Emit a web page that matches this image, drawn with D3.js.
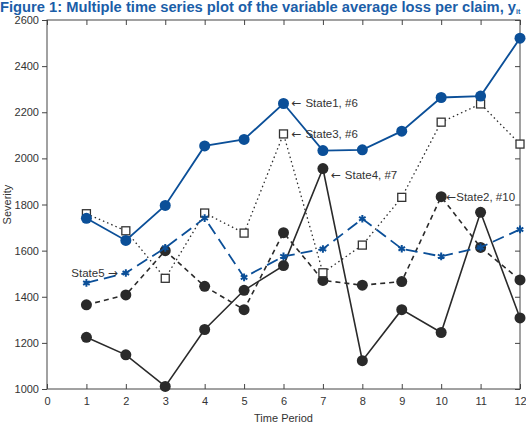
<!DOCTYPE html>
<head>
    <meta charset="UTF-8">
    <title>Multiple time series</title>
</head>
<style>
    body { margin: 0; background: #fff; }
    svg { display: block; font-family: "Liberation Sans", Arial, sans-serif; }
    .axis text { font-size: 11px; fill: #333; }
    .axis path, .axis line { stroke: #444; }
    .note { font-size: 11.5px; fill: #333; }
    .arrow { font-family: "DejaVu Sans", sans-serif; font-size: 12px; }
</style>
<body>
<script src="https://cdn.jsdelivr.net/npm/d3@7"></script>
<script>
    // values
    var periods = [1, 2, 3, 4, 5, 6, 7, 8, 9, 10, 11, 12];
    var state1 = [1740, 1644, 1796, 2054, 2082, 2238, 2034, 2037, 2118, 2264, 2270, 2521];
    var state2 = [1365, 1408, 1600, 1445, 1344, 1678, 1471, 1450, 1466, 1834, 1614, 1473];
    var state3 = [1760, 1686, 1480, 1763, 1676, 2106, 1504, 1624, 1831, 2157, 2236, 2062];
    var state4 = [1224, 1148, 1011, 1258, 1428, 1535, 1956, 1123, 1344, 1245, 1766, 1308];
    var state5 = [1460, 1503, 1612, 1741, 1484, 1575, 1607, 1738, 1608, 1575, 1614, 1692];
    var xTicks = [0, 1, 2, 3, 4, 5, 6, 7, 8, 9, 10, 11, 12];
    var yTicks = [1000, 1200, 1400, 1600, 1800, 2000, 2200, 2400, 2600];

    var blue = "#0b4f98", dark = "#2a2a2a";

    var series = [
        { name: "State2", values: state2, color: dark, dash: "5,4", width: 1.6, marker: "dot" },
        { name: "State4", values: state4, color: dark, dash: null, width: 1.6, marker: "dot" },
        { name: "State3", values: state3, color: dark, dash: "1.5,3", width: 1.3, marker: "square" },
        { name: "State5", values: state5, color: blue, dash: "12,6", width: 1.8, marker: "star" },
        { name: "State1", values: state1, color: blue, dash: null, width: 1.8, marker: "dot" }
    ];

    var notes = [
        { pre: "\u2190 ", text: "State1, #6", post: "", i: 5, s: state1, dx: 8, dy: 4, anchor: "start" },
        { pre: "\u2190 ", text: "State3, #6", post: "", i: 5, s: state3, dx: 8, dy: 4, anchor: "start" },
        { pre: "\u2190 ", text: "State4, #7", post: "", i: 6, s: state4, dx: 8, dy: 10, anchor: "start" },
        { pre: "\u2190", text: "State2, #10", post: "", i: 9, s: state2, dx: 5, dy: 4, anchor: "start" },
        { pre: "", text: "State5 ", post: "\u2192", i: 1, s: state5, dx: -8, dy: 4, anchor: "end" }
    ];

    var width = 526, height = 426;
    var margin = { top: 20, right: 6, bottom: 37, left: 47 };

    var svg = d3.select("body").append("svg")
        .attr("width", width)
        .attr("height", height);

    var title = svg.append("text")
        .attr("x", 0)
        .attr("y", 12)
        .style("font-size", "14px")
        .style("font-weight", "bold")
        .style("fill", "#1b5ea8");
    title.append("tspan")
        .attr("textLength", 516)
        .attr("lengthAdjust", "spacingAndGlyphs")
        .text("Figure 1:  Multiple time series plot of the variable average loss per claim, y");
    title.append("tspan").attr("dy", 2).style("font-size", "7px").text("it");

    var x = d3.scaleLinear().domain([0, 12]).range([margin.left, width - margin.right]);
    var y = d3.scaleLinear().domain([1000, 2600]).range([height - margin.bottom, margin.top]);

    // frame
    svg.append("rect")
        .attr("x", x(0)).attr("y", y(2600))
        .attr("width", x(12) - x(0)).attr("height", y(1000) - y(2600))
        .attr("fill", "none").attr("stroke", "#444");

    svg.append("g").attr("class", "axis")
        .attr("transform", "translate(0," + y(1000) + ")")
        .call(d3.axisBottom(x).tickValues(xTicks).tickSize(-5).tickPadding(8))
        .call(function(g) { g.select(".domain").remove(); });

    svg.append("g").attr("class", "axis")
        .attr("transform", "translate(0," + y(2600) + ")")
        .call(d3.axisTop(x).tickValues(xTicks).tickSize(-5).tickFormat(""))
        .call(function(g) { g.select(".domain").remove(); });

    svg.append("g").attr("class", "axis")
        .attr("transform", "translate(" + x(0) + ",0)")
        .call(d3.axisLeft(y).tickValues(yTicks).tickSize(5).tickPadding(3).tickFormat(d3.format("d")))
        .call(function(g) { g.select(".domain").remove(); });

    svg.append("g").attr("class", "axis")
        .attr("transform", "translate(" + x(12) + ",0)")
        .call(d3.axisRight(y).tickValues(yTicks).tickSize(-5).tickFormat(""))
        .call(function(g) { g.select(".domain").remove(); });

    svg.append("text")
        .attr("x", (x(0) + x(12)) / 2)
        .attr("y", height - 4)
        .attr("text-anchor", "middle")
        .style("font-size", "11px").style("fill", "#333")
        .text("Time Period");

    svg.append("text")
        .attr("transform", "translate(11," + (y(1800)) + ") rotate(-90)")
        .attr("text-anchor", "middle")
        .style("font-size", "11px").style("fill", "#333")
        .text("Severity");

    var line = d3.line()
        .x(function(d, i) { return x(periods[i]); })
        .y(function(d) { return y(d); });

    var star = d3.symbol().type(d3.symbolAsterisk).size(40);

    series.forEach(function(s) {
        var g = svg.append("g");
        g.append("path")
            .attr("d", line(s.values))
            .attr("fill", "none")
            .attr("stroke", s.color)
            .attr("stroke-width", s.width)
            .attr("stroke-dasharray", s.dash);

        var pts = g.selectAll(".pt")
            .data(s.values)
            .enter();

        if (s.marker === "dot") {
            pts.append("circle")
                .attr("cx", function(d, i) { return x(periods[i]); })
                .attr("cy", function(d) { return y(d); })
                .attr("r", 5.5)
                .attr("fill", s.color);
        } else if (s.marker === "square") {
            pts.append("rect")
                .attr("x", function(d, i) { return x(periods[i]) - 4; })
                .attr("y", function(d) { return y(d) - 4; })
                .attr("width", 8).attr("height", 8)
                .attr("fill", "#fff")
                .attr("stroke", "#333")
                .attr("stroke-width", 1.3);
        } else {
            pts.append("path")
                .attr("transform", function(d, i) { return "translate(" + x(periods[i]) + "," + y(d) + ")"; })
                .attr("d", star)
                .attr("stroke", s.color)
                .attr("stroke-width", 2)
                .attr("fill", s.color);
        }
    });

    var note = svg.selectAll(".note")
        .data(notes)
        .enter().append("text")
        .attr("class", "note")
        .attr("x", function(d) { return x(periods[d.i]) + d.dx; })
        .attr("y", function(d) { return y(d.s[d.i]) + d.dy; })
        .attr("text-anchor", function(d) { return d.anchor; });
    note.append("tspan").attr("class", "arrow").text(function(d) { return d.pre; });
    note.append("tspan").text(function(d) { return d.text; });
    note.append("tspan").attr("class", "arrow").text(function(d) { return d.post; });
</script>
</body>
</html>
